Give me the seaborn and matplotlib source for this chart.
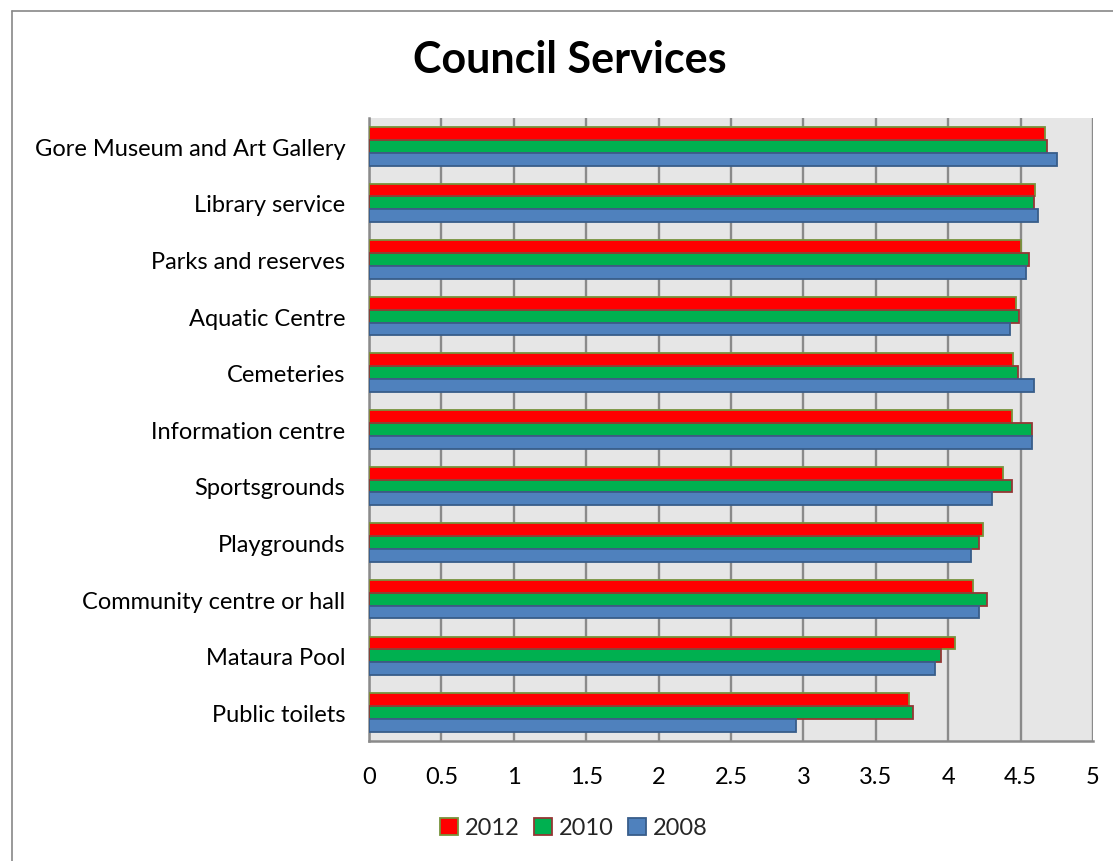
import matplotlib
matplotlib.use("Agg")
import matplotlib.pyplot as plt
from matplotlib.lines import Line2D
from matplotlib.patches import Patch
import seaborn as sns
import pandas as pd

services = [
    "Gore Museum and Art Gallery",
    "Library service",
    "Parks and reserves",
    "Aquatic Centre",
    "Cemeteries",
    "Information centre",
    "Sportsgrounds",
    "Playgrounds",
    "Community centre or hall",
    "Mataura Pool",
    "Public toilets",
]
years = ["2012", "2010", "2008"]
score_2012 = [4.67, 4.60, 4.50, 4.47, 4.45, 4.44, 4.38, 4.24, 4.17, 4.05, 3.73]
score_2010 = [4.68, 4.59, 4.56, 4.49, 4.48, 4.58, 4.44, 4.21, 4.27, 3.95, 3.76]
score_2008 = [4.75, 4.62, 4.54, 4.43, 4.59, 4.58, 4.30, 4.16, 4.21, 3.91, 2.95]
x_ticks = [0, 0.5, 1, 1.5, 2, 2.5, 3, 3.5, 4, 4.5, 5]
x_tick_labels = ["0", "0.5", "1", "1.5", "2", "2.5", "3", "3.5", "4", "4.5", "5"]

fill_colors = {"2012": "#FF0000", "2010": "#00B050", "2008": "#4F81BD"}
edge_colors = {"2012": "#77933C", "2010": "#953735", "2008": "#385D8A"}

df = pd.DataFrame({
    "service": services * 3,
    "year": ["2012"] * len(services) + ["2010"] * len(services) + ["2008"] * len(services),
    "score": score_2012 + score_2010 + score_2008,
})

sns.set_theme(style="white")
plt.rcParams["font.family"] = ["Lato", "DejaVu Sans"]

fig = plt.figure(figsize=(11.13, 8.62), dpi=100)
ax = fig.add_axes([369 / 1113, 1 - 741.7 / 862, (1093 - 369) / 1113, (741.7 - 119) / 862])
ax.set_facecolor("#E6E6E6")

sns.barplot(data=df, x="score", y="service", hue="year", order=services,
            hue_order=years, palette=fill_colors, saturation=1, orient="h", width=0.68,
            ax=ax, legend=False, zorder=3)

for container, yr in zip(ax.containers, years):
    for bar in container:
        bar.set_edgecolor(edge_colors[yr])
        bar.set_linewidth(1.3)

ax.set_xlim(0, 5)
ax.set_xticks(x_ticks)
ax.set_xticklabels(x_tick_labels)
ax.set_xlabel("")
ax.set_ylabel("")
ax.grid(axis="x", color="#8A8A8A", linewidth=1.7, zorder=0)
ax.set_axisbelow(True)
ax.tick_params(axis="both", length=0, labelsize=17, colors="black")
ax.tick_params(axis="x", pad=18)
ax.tick_params(axis="y", pad=17)

for side in ["top", "right"]:
    ax.spines[side].set_visible(False)
for side in ["left", "bottom"]:
    ax.spines[side].set_color("#8A8A8A")
    ax.spines[side].set_linewidth(1.8)

fig.text(570 / 1113, 1 - 60 / 862, "Council Services", ha="center", va="center",
         fontsize=31, fontweight="bold", color="black")

handles = [Patch(facecolor=fill_colors[y], edgecolor=edge_colors[y], linewidth=1.3, label=y)
           for y in years]
fig.legend(handles=handles, loc="center", bbox_to_anchor=(574 / 1113, 1 - 829 / 862),
           ncol=3, frameon=False, fontsize=17, handlelength=0.75, handleheight=0.75,
           handletextpad=0.3, columnspacing=0.6)

# chart frame (left and top edges)
fig.add_artist(Line2D([12 / 1113, 12 / 1113], [0, 1 - 11.5 / 862], transform=fig.transFigure,
                      color="#888888", linewidth=1.2))
fig.add_artist(Line2D([12 / 1113, 1], [1 - 11.5 / 862, 1 - 11.5 / 862], transform=fig.transFigure,
                      color="#888888", linewidth=1.2))

fig.savefig("out.png", dpi=100, facecolor="white")
